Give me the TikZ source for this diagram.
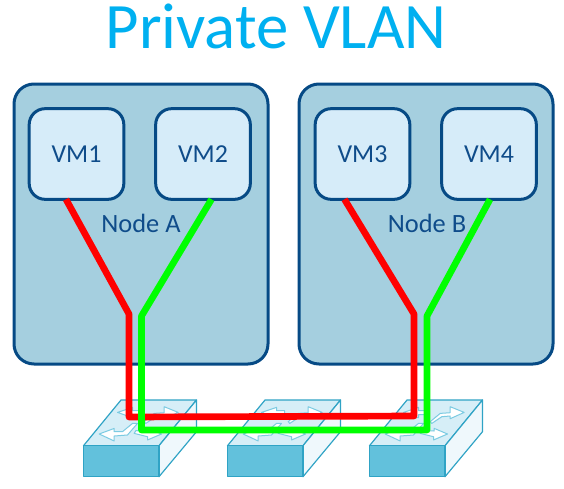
\documentclass[tikz,border=0pt]{standalone}
\usepackage{fontspec}
\setmainfont{Carlito}
\usetikzlibrary{calc}
\definecolor{hostfill}{HTML}{A5CFDF}
\definecolor{hostline}{HTML}{064A85}
\definecolor{vmfill}{HTML}{D6ECF9}
\definecolor{labelblue}{HTML}{0F4C8A}
\definecolor{titleblue}{HTML}{00B0F0}
\definecolor{swfront}{HTML}{62C1DC}
\definecolor{swtop}{HTML}{D6EEF7}
\definecolor{swside}{HTML}{EFF8FC}
\definecolor{swedge}{HTML}{2FA3C5}
\definecolor{swarrow}{HTML}{7CCBE2}
\definecolor{wirered}{HTML}{FF0000}
\definecolor{wiregreen}{HTML}{00FF00}
\tikzset{
  hostbox/.style={draw=hostline,fill=hostfill,line width=2.25pt,rounded corners=15pt,
    minimum width=190.5pt,minimum height=210pt,inner sep=0pt,outer sep=0pt},
  vmbox/.style={draw=hostline,fill=vmfill,line width=2.25pt,rounded corners=12pt,
    minimum width=71pt,minimum height=68pt,inner sep=0pt,outer sep=0pt,
    text=labelblue,font=\fontsize{19.4}{22}\selectfont},
  hostlabel/.style={text=labelblue,font=\fontsize{19.8}{22}\selectfont,inner sep=0pt},
  wire/.style={line width=5pt,line join=round},
  swarr/.style={fill=white,draw=swarrow,line width=0.75pt,line join=round},
  swface/.style={draw=swedge,line width=0.9pt,line join=round},
  pics/switchbox/.style={code={
    \fill[swtop,draw=swedge,line width=0.9pt,line join=round] (0,0) -- (37.5,-45.7) -- (113,-45.7) -- (75.5,0) -- cycle;
    \path[swface,fill=swside] (75.5,0) -- (113,-45.7) -- (113,-14) -- (75.5,31) -- cycle;
    \path[swface,fill=swfront] (0,0) rectangle (75.5,31);
    \path[swarr] (60.7,-24) -- (70.7,-32.3) -- (80.7,-33) -- (80.7,-39) -- (94.7,-33.3) -- (80.7,-27) -- (80.7,-29.7) -- (72.3,-29) -- (62.3,-22.3) -- cycle;
    \path[swarr] (78,-11.7) -- (64.7,-17.3) -- (64.7,-14.7) -- (52.3,-15) -- (50.7,-12.3) -- (64,-9) -- (64,-5.7) -- cycle;
    \path[swarr] (15.7,-11.7) -- (30.7,-17.3) -- (30.7,-14) -- (39,-14) -- (49,-22.3) -- (54,-22.3) -- (44,-10.7) -- (30.7,-9.7) -- (30.7,-4.7) -- cycle;
    \path[swarr] (34,-33.3) -- (49,-38.3) -- (49,-35) -- (57,-35) -- (57,-31) -- (49,-31) -- (49,-28) -- cycle;
  }}
}
\begin{document}
\begin{tikzpicture}[x=0.75pt,y=-0.75pt]
\useasboundingbox (0,0) rectangle (564,489);
\node[text=titleblue,font=\fontsize{48.6}{52}\selectfont,inner sep=0pt] (title) at (276,26) {Private VLAN};
\node[hostbox] (nodeA) at (141,224) {};
\node[hostbox] (nodeB) at (426,224) {};
\node[vmbox] (vm1) at (76.5,154) {VM1};
\node[vmbox] (vm2) at (203,154) {VM2};
\node[vmbox] (vm3) at (362.5,154) {VM3};
\node[vmbox] (vm4) at (489,154) {VM4};
\node[hostlabel] (labelA) at (141,223) {Node A};
\node[hostlabel] (labelB) at (427,223) {Node B};
\pic at (83.5,445.7) {switchbox};
\pic at (227.5,445.7) {switchbox};
\pic at (369.5,445.7) {switchbox};
\coordinate (r1) at (129,314);
\coordinate (r2) at (129,417);
\coordinate (r3) at (414,416);
\coordinate (r4) at (414,314);
\coordinate (g1) at (141.5,316);
\coordinate (g2) at (141.5,430);
\coordinate (g3) at (427,430);
\coordinate (g4) at (427,316);
\draw[wire,wirered] ($(vm1.south)+(-10.5,0)$) -- (r1) -- (r2) -- (r3) -- (r4) -- ($(vm3.south)+(-18,0)$);
\draw[wire,wiregreen] ($(vm2.south)+(8.5,0)$) -- (g1) -- (g2) -- (g3) -- (g4) -- ($(vm4.south)+(1,0)$);
\end{tikzpicture}
\end{document}
